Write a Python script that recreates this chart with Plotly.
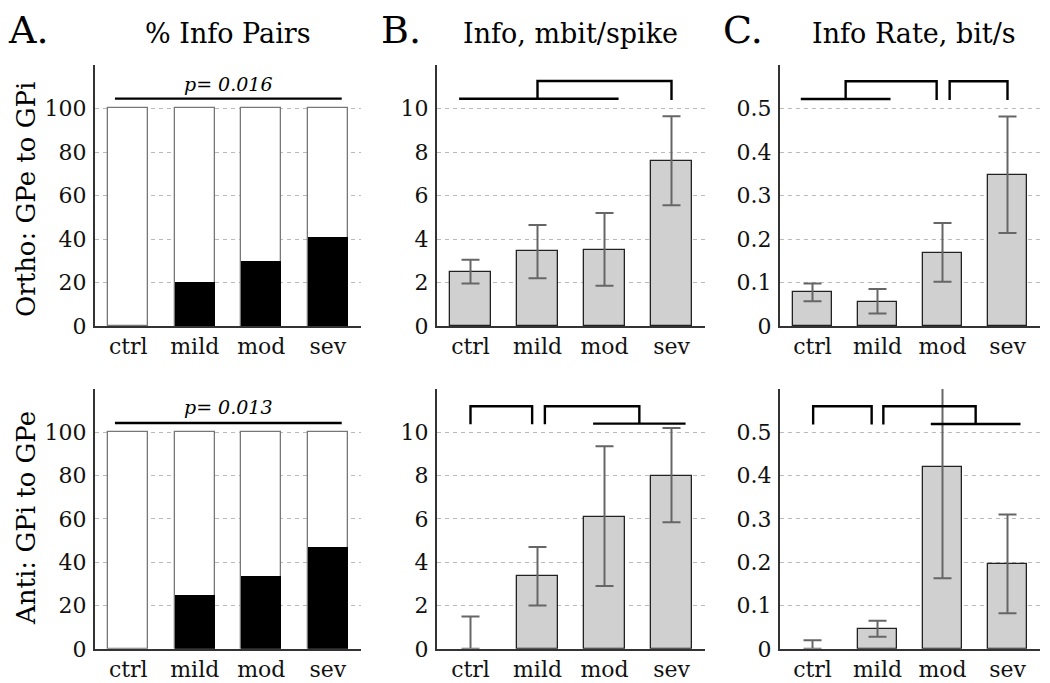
import plotly.graph_objects as go
from plotly.subplots import make_subplots

FONT = 'DejaVu Serif'
GRID = 'rgba(170, 170, 170, 0.8)'
AXIS = '#333333'
BAR_FILL = '#d0d0d0'
ERR = '#666666'

# page has an 8px body margin; the capture comes out a bit squashed vertically,
# so lay things out on a slightly taller frame
OFF = 8
FRAME_H = 696
SY = FRAME_H / 683
W, H = 1034, FRAME_H - 2 * OFF

categories = ['ctrl', 'mild', 'mod', 'sev']
positions = [1, 2, 3, 4]

# % informative pairs (black part of each 100% bar)
pairs_ortho = [0, 20, 30, 41]
pairs_anti = [0, 25, 33.5, 47]

# info, mbit/spike: mean and error-bar ends
info_ortho = [2.5, 3.45, 3.5, 7.6]
info_ortho_hi = [3.05, 4.65, 5.2, 9.65]
info_ortho_lo = [1.95, 2.2, 1.85, 5.55]
info_anti = [0, 3.35, 6.1, 8.0]
info_anti_hi = [1.5, 4.7, 9.35, 10.2]
info_anti_lo = [0, 2.0, 2.9, 5.85]

# info rate, bit/s
rate_ortho = [0.077, 0.056, 0.168, 0.348]
rate_ortho_hi = [0.098, 0.085, 0.237, 0.482]
rate_ortho_lo = [0.057, 0.029, 0.102, 0.214]
rate_anti = [0, 0.047, 0.42, 0.195]
rate_anti_hi = [0.02, 0.065, 0.677, 0.31]
rate_anti_lo = [0, 0.028, 0.163, 0.082]

# significance brackets (x in category units, y in data units)
sig_a_top_x = [0.8, 4.21]
sig_a_top_y = [104.6, 104.6]
sig_a_bot_x = [0.8, 4.21]
sig_a_bot_y = [104.3, 104.3]
sig_b_top_x = [0.83, 3.21, None, 2, 2, 4, 4]
sig_b_top_y = [10.45, 10.45, None, 10.45, 11.27, 11.27, 10.4]
sig_c_top_x = [0.82, 2.2, None, 1.51, 1.51, 2.91, 2.91, None, 3.11, 3.11, 4.0, 4.0]
sig_c_top_y = [0.522, 0.522, None, 0.522, 0.563, 0.563, 0.52, None, 0.52, 0.563, 0.563, 0.52]
sig_b_bot_x = [1.0, 1.0, 1.92, 1.92, None, 2.11, 2.11, 3.52, 3.52, None, 2.83, 4.21]
sig_b_bot_y = [10.37, 11.2, 11.2, 10.37, None, 10.37, 11.2, 11.2, 10.4, None, 10.4, 10.4]
sig_c_bot_x = [1.01, 1.01, 1.91, 1.91, None, 2.09, 2.09, 3.51, 3.51, None, 2.82, 4.2]
sig_c_bot_y = [0.518, 0.56, 0.56, 0.518, None, 0.518, 0.56, 0.56, 0.519, None, 0.519, 0.519]

p_top = 'p= 0.016'
p_bot = 'p= 0.013'


def px(x):
    return (x - OFF) / W


def py(y):
    return 1 - (y * SY - OFF) / H


fig = make_subplots(rows=2, cols=3)


def add_pairs(vals, row, col):
    fig.add_trace(go.Bar(x=positions, y=[100] * 4, width=0.6, marker_color='white',
                         marker_line_color='#777777', marker_line_width=1.3),
                  row=row, col=col)
    fig.add_trace(go.Bar(x=positions, y=vals, width=0.6, marker_color='black',
                         marker_line_width=0),
                  row=row, col=col)


def add_info(mean, hi, lo, row, col):
    fig.add_trace(go.Bar(
        x=positions, y=mean, width=0.6, marker_color=BAR_FILL,
        marker_line_color='#222222',
        marker_line_width=[1.3 if m > 0 else 0 for m in mean],
        error_y=dict(type='data', symmetric=False,
                     array=[h - m for h, m in zip(hi, mean)],
                     arrayminus=[m - l for m, l in zip(mean, lo)],
                     color=ERR, thickness=2, width=9)),
        row=row, col=col)


def add_sig(xs, ys, row, col):
    fig.add_trace(go.Scatter(x=xs, y=ys, mode='lines', line=dict(color='black', width=2.4),
                             connectgaps=False, cliponaxis=False),
                  row=row, col=col)


add_pairs(pairs_ortho, 1, 1)
add_pairs(pairs_anti, 2, 1)
add_info(info_ortho, info_ortho_hi, info_ortho_lo, 1, 2)
add_info(info_anti, info_anti_hi, info_anti_lo, 2, 2)
add_info(rate_ortho, rate_ortho_hi, rate_ortho_lo, 1, 3)
add_info(rate_anti, rate_anti_hi, rate_anti_lo, 2, 3)
add_sig(sig_a_top_x, sig_a_top_y, 1, 1)
add_sig(sig_a_bot_x, sig_a_bot_y, 2, 1)
add_sig(sig_b_top_x, sig_b_top_y, 1, 2)
add_sig(sig_b_bot_x, sig_b_bot_y, 2, 2)
add_sig(sig_c_top_x, sig_c_top_y, 1, 3)
add_sig(sig_c_bot_x, sig_c_bot_y, 2, 3)

x_domains = [[px(95), px(361)], [px(437), px(705)], [px(780), px(1040)]]
y_domains = [[py(326), py(65)], [py(649), py(389)]]
y_ranges = [[0, 120], [0, 12], [0, 0.6]]
y_ticks = [[0, 20, 40, 60, 80, 100], [0, 2, 4, 6, 8, 10], [0, 0.1, 0.2, 0.3, 0.4, 0.5]]

for r in range(2):
    for c in range(3):
        fig.update_xaxes(row=r + 1, col=c + 1, domain=x_domains[c], range=[0.5, 4.5],
                         tickvals=positions, ticktext=categories, showline=True,
                         linecolor=AXIS, linewidth=2, showgrid=False, zeroline=False,
                         ticks='', ticklabelstandoff=0, fixedrange=True)
        fig.update_yaxes(row=r + 1, col=c + 1, domain=y_domains[r], range=y_ranges[c],
                         tickvals=y_ticks[c], showline=True, linecolor=AXIS, linewidth=2,
                         showgrid=True, gridcolor=GRID, griddash='4px,4px', gridwidth=1,
                         zeroline=False, ticks='', ticklabelstandoff=2, fixedrange=True)


def label(text, x, y, size, angle=0):
    return dict(text=text, x=px(x), y=py(y), xref='paper', yref='paper',
                xanchor='center', yanchor='middle', showarrow=False, textangle=angle,
                font=dict(size=size, family=FONT, color='black'))


annotations = [
    label('% Info Pairs', 228, 33, 27),
    label('Info, mbit/spike', 570, 33, 27),
    label('Info Rate, bit/s', 914, 33, 27),
    label('A.', 28, 30, 38),
    label('B.', 401, 30, 38),
    label('C.', 743, 30, 38),
    label('Ortho: GPe to GPi', 26, 200, 26, -90),
    label('Anti: GPi to GPe', 26, 518, 26, -90),
]
for text, xr, yr in [(p_top, 'x', 'y'), (p_bot, 'x4', 'y4')]:
    annotations.append(dict(text='<i>' + text + '</i>', x=2.5, y=111.5, xref=xr, yref=yr,
                            showarrow=False, font=dict(size=19, family=FONT, color='black')))

fig.update_layout(
    width=W, height=H,
    margin=dict(l=0, r=0, t=0, b=0),
    plot_bgcolor='white', paper_bgcolor='white',
    barmode='overlay', bargap=0, showlegend=False,
    font=dict(family=FONT, size=22, color='#111111'),
    annotations=annotations,
)

fig.write_html('out.html')
